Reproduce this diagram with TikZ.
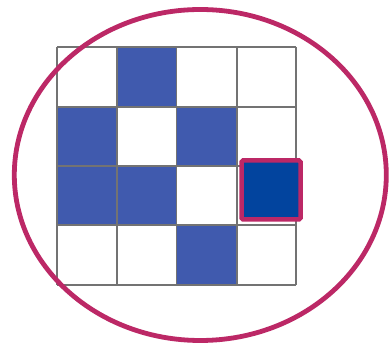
\documentclass[tikz,border=0pt]{standalone}
\definecolor{cellblue}{RGB}{64,90,174}
\definecolor{hiblue}{RGB}{2,68,158}
\definecolor{ringred}{RGB}{188,40,102}
\definecolor{gridgray}{RGB}{115,115,115}
\tikzset{
  bluecell/.style={fill=cellblue},
  gridline/.style={draw=gridgray,line width=1.2pt},
  ring/.style={draw=ringred,line width=4.8pt},
  hicell/.style={fill=hiblue,draw=ringred,line width=4.5pt,rounded corners=1.5pt}
}
\begin{document}
\begin{tikzpicture}[x=1pt,y=-1pt]
\useasboundingbox[fill=white] (0,0) rectangle (389,344);
% filled cells
\fill[bluecell] (117,47) rectangle (176.5,107);
\fill[bluecell] (57,107) rectangle (117,166);
\fill[bluecell] (176.5,107) rectangle (237,166);
\fill[bluecell] (57,166) rectangle (117,225);
\fill[bluecell] (117,166) rectangle (176.5,225);
\fill[bluecell] (176.5,225) rectangle (237,285);
% grid
\foreach \x in {57,117,176.5,237,296} \draw[gridline] (\x,47) -- (\x,285);
\foreach \y in {47,107,166,225,285} \draw[gridline] (57,\y) -- (296,\y);
% highlighted cell
\draw[hicell] (241.5,160.5) rectangle (300.5,219.5);
% ring
\draw[ring] (200.3,175) ellipse [x radius=186, y radius=165.5];
\end{tikzpicture}
\end{document}
